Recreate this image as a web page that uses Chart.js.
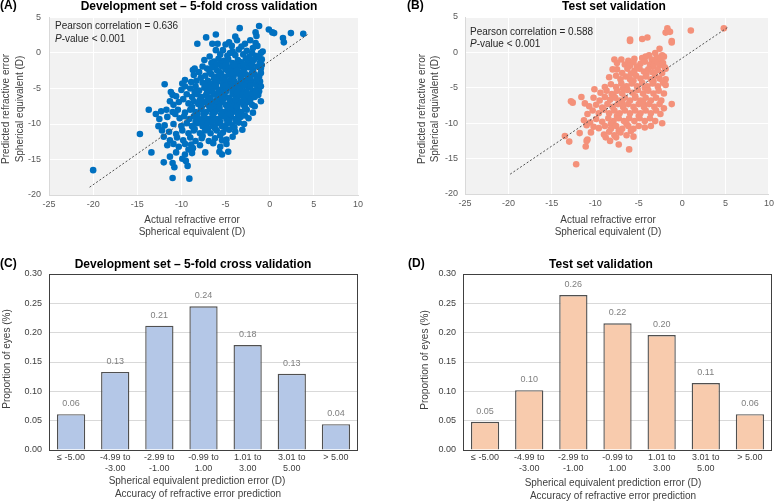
<!DOCTYPE html>
<html><head><meta charset="utf-8">
<script src="https://cdn.jsdelivr.net/npm/chart.js@4/dist/chart.umd.min.js"></script>
<style>
html,body{margin:0;padding:0;background:#fff;}
#wrap{position:relative;width:778px;height:501px;overflow:hidden;background:#fff;}
canvas{position:absolute;display:block;}
</style></head><body>
<div id="wrap">
<canvas id="cA" width="389" height="250" style="left:0;top:0"></canvas>
<canvas id="cB" width="389" height="250" style="left:389px;top:0"></canvas>
<canvas id="cC" width="389" height="251" style="left:0;top:250px"></canvas>
<canvas id="cD" width="389" height="251" style="left:389px;top:250px"></canvas>
</div>
<script>
// ---------------- DATA ----------------
const devPoints = [
[-1.2,3.8],[-3.4,3.5],[-0.1,3.3],[0.3,2.9],[0.5,2.8],[2.4,2.8],[3.8,2.7],[-1.6,2.9],[-1.5,2.4],[1.5,2.1],[1.6,1.5],[-7.2,2.2],[-6.1,2.6],[-5.9,1.3],[-4.6,1.5],[-3.9,2.3],[-3.7,1.8],[-2.8,1.3],[-1.6,1.4],[-8.2,1.3],[-1.9,0.7],[-5.0,1.2],[-4.3,1.0],[-2.2,1.8],[-1.4,1.0],[-3.2,0.9],[-6.5,1.3],
[-0.8,0.2],[-1.0,0.0],[-6.1,0.4],[-5.3,0.4],[-4.2,0.2],[-3.5,0.5],[-2.6,0.3],[-2.0,0.0],[-6.8,-0.5],[-5.6,-0.2],[-4.8,-0.4],[-3.9,-0.3],[-3.0,-0.2],[-1.6,-0.4],[-4.5,0.0],[-2.3,-0.5],[-1.2,-0.6],
[-7.4,-1.0],[-6.3,-1.2],[-5.8,-0.8],[-5.2,-1.1],[-4.7,-0.9],[-4.2,-1.4],[-3.6,-1.0],[-3.2,-1.3],[-2.7,-0.8],[-2.2,-1.2],[-1.8,-1.0],[-1.1,-1.3],[-0.9,-0.9],[-6.6,-1.4],[-4.9,-1.5],[-3.8,-1.6],[-2.5,-1.5],[-5.5,-1.5],
[-7.6,-1.9],[-8.7,-2.4],[-8.5,-2.2],[-7.1,-2.2],[-6.5,-2.0],[-6.0,-2.4],[-5.4,-1.9],[-5.0,-2.3],[-4.4,-2.0],[-3.9,-2.4],[-3.4,-1.9],[-2.9,-2.3],[-2.4,-2.0],[-1.9,-2.4],[-1.4,-1.9],[-1.0,-2.2],[-0.9,-1.7],[-4.7,-2.6],[-6.8,-2.7],[-3.1,-2.7],
[-8.0,-2.7],[-8.6,-3.1],[-7.3,-3.2],[-6.6,-3.0],[-6.0,-3.3],[-5.5,-2.9],[-5.1,-3.4],[-4.6,-3.0],[-4.1,-3.3],[-3.6,-2.9],[-3.2,-3.3],[-2.7,-3.0],[-2.2,-3.4],[-1.7,-3.0],[-1.2,-3.3],[-1.0,-2.8],[-7.8,-3.5],[-5.8,-3.6],[-4.4,-3.7],[-2.5,-3.7],
[-9.6,-3.8],[-9.9,-4.3],[-8.9,-4.1],[-8.3,-3.9],[-7.6,-4.2],[-7.0,-3.9],[-6.4,-4.3],[-5.9,-4.0],[-5.3,-4.4],[-4.9,-4.0],[-4.5,-4.4],[-4.0,-4.0],[-3.5,-4.3],[-3.0,-3.9],[-2.6,-4.3],[-2.1,-4.0],[-1.6,-4.4],[-1.1,-4.0],[-11.9,-4.4],[-6.7,-4.6],[-3.8,-4.7],
[-11.2,-5.5],[-9.6,-4.7],[-10.0,-5.2],[-9.0,-5.0],[-8.4,-4.7],[-8.0,-5.3],[-7.4,-4.9],[-6.9,-5.3],[-6.3,-4.8],[-5.8,-5.2],[-5.3,-4.8],[-4.9,-5.3],[-4.4,-4.9],[-4.0,-5.4],[-3.4,-5.0],[-2.9,-5.4],[-2.4,-4.9],[-1.9,-5.3],[-1.4,-4.8],[-1.0,-4.7],[-1.2,-5.4],[-7.1,-5.6],[-5.5,-5.6],[-3.2,-5.7],
[-10.6,-6.1],[-11.0,-5.9],[-9.4,-5.8],[-8.8,-6.2],[-8.2,-5.8],[-7.7,-6.2],[-7.2,-5.9],[-6.7,-6.3],[-6.2,-5.8],[-5.7,-6.2],[-5.2,-5.9],[-4.7,-6.3],[-4.2,-5.8],[-3.7,-6.2],[-3.2,-5.9],[-2.7,-6.3],[-2.2,-5.8],[-1.7,-6.2],[-1.3,-5.9],[-9.8,-6.5],[-6.0,-6.6],[-4.5,-6.6],
[-11.3,-6.8],[-10.9,-7.3],[-10.3,-6.9],[-9.2,-7.1],[-8.6,-6.8],[-8.1,-7.2],[-7.5,-6.9],[-7.0,-7.3],[-6.5,-6.9],[-6.0,-7.3],[-5.5,-6.9],[-5.0,-7.3],[-4.5,-6.9],[-4.0,-7.3],[-3.5,-6.9],[-3.0,-7.3],[-2.5,-6.9],[-2.0,-7.3],[-1.0,-6.8],[-1.7,-7.5],[-8.8,-7.6],[-6.3,-7.6],[-4.3,-7.7],
[-13.7,-8.0],[-12.9,-8.6],[-12.3,-8.2],[-11.7,-8.0],[-11.0,-8.3],[-10.4,-8.0],[-9.6,-8.4],[-9.0,-8.0],[-8.4,-8.3],[-7.8,-7.9],[-7.2,-8.3],[-6.7,-7.9],[-6.2,-8.3],[-5.7,-7.9],[-5.2,-8.3],[-4.7,-7.9],[-4.2,-8.3],[-3.7,-7.9],[-3.2,-8.3],[-2.6,-8.0],[-1.9,-8.4],[-7.5,-8.6],[-5.0,-8.7],[-10.7,-8.6],
[-12.5,-9.3],[-11.6,-9.0],[-10.2,-9.2],[-9.7,-8.9],[-9.1,-9.3],[-8.6,-8.9],[-8.0,-9.3],[-7.4,-8.9],[-6.9,-9.3],[-6.4,-8.9],[-5.9,-9.3],[-5.4,-8.9],[-4.9,-9.3],[-4.4,-8.9],[-3.9,-9.3],[-3.3,-9.0],[-2.8,-8.8],[-2.4,-9.2],[-7.1,-9.6],[-5.6,-9.7],[-8.4,-9.7],
[-12.6,-10.3],[-11.9,-10.2],[-10.9,-10.0],[-10.0,-10.3],[-9.4,-9.9],[-8.8,-10.3],[-8.2,-9.9],[-7.6,-10.3],[-7.1,-9.9],[-6.5,-10.3],[-5.9,-9.9],[-5.4,-10.3],[-4.8,-9.9],[-4.2,-10.2],[-3.5,-9.8],[-2.9,-10.0],[-6.2,-10.6],[-8.5,-10.7],
[-14.7,-11.4],[-12.2,-10.9],[-11.4,-11.1],[-10.6,-11.4],[-9.9,-10.9],[-9.2,-11.3],[-8.6,-10.9],[-7.9,-11.3],[-7.3,-10.9],[-6.7,-11.3],[-6.0,-10.9],[-5.3,-11.2],[-4.6,-10.8],[-3.9,-11.1],[-3.1,-10.8],[-5.6,-11.6],[-7.6,-11.7],
[-12.0,-11.8],[-11.3,-12.3],[-10.5,-11.9],[-9.8,-12.3],[-9.0,-11.9],[-8.4,-12.4],[-7.7,-12.0],[-6.9,-12.4],[-6.2,-12.0],[-5.4,-12.3],[-4.9,-12.2],[-4.2,-11.8],[-10.9,-12.8],[-8.9,-12.9],
[-11.6,-13.0],[-10.3,-13.2],[-9.6,-12.8],[-8.7,-13.4],[-7.9,-13.0],[-6.4,-12.7],[-5.6,-13.2],[-4.9,-12.8],[-9.2,-13.6],
[-13.4,-14.0],[-11.3,-14.6],[-10.6,-14.0],[-9.6,-14.3],[-8.8,-14.1],[-7.3,-14.0],[-5.7,-13.9],[-4.7,-13.9],[-5.4,-14.3],[-9.9,-14.9],
[-12.0,-15.4],[-9.5,-15.2],[-9.3,-15.9],[-10.8,-16.1],[-11.0,-17.6],[-9.1,-17.7],[-20.0,-16.5],[-11.0,-15.5],
[-6.0,-1.6],[-5.0,-1.8],[-4.0,-1.8],[-3.0,-1.6],[-2.0,-1.6],[-5.7,-2.7],[-4.2,-2.7],[-3.7,-2.5],[-2.0,-2.8],[-6.3,-3.6],[-5.3,-3.7],[-3.3,-3.6],[-2.3,-3.5],[-1.5,-3.7],[-7.3,-4.6],[-6.1,-4.6],[-5.0,-4.6],[-4.2,-4.7],[-2.9,-4.6],[-2.2,-4.6],[-8.5,-5.5],[-6.5,-5.5],[-5.0,-5.5],[-4.2,-5.5],[-3.7,-5.6],[-2.6,-5.6],[-1.6,-5.6],[-7.9,-6.6],[-7.0,-6.6],[-5.3,-6.6],[-3.9,-6.6],[-3.0,-6.6],[-2.2,-6.6],[-7.7,-7.6],[-6.8,-7.7],[-5.7,-7.6],[-4.8,-7.6],[-3.7,-7.6],[-2.8,-7.6],[-8.2,-8.6],[-6.5,-8.6],[-5.5,-8.6],[-4.5,-8.6],[-3.6,-8.6],[-7.7,-9.6],[-6.5,-9.6],[-4.6,-9.6],[-3.8,-9.6],[-7.0,-10.6],[-5.0,-10.6],[-4.0,-10.5]
];
const testPoints = [
[4.8,3.4],[1.0,3.1],[-1.7,3.4],[-1.9,2.8],[-1.4,2.9],[-1.6,3.0],[-1.2,1.6],[-1.2,1.4],[-6.0,1.8],[-6.0,1.6],[-4.6,1.9],[-4.0,2.1],[-2.6,0.5],
[-3.1,-0.1],[-2.3,-0.4],[-3.8,-0.4],[-2.9,-0.7],[-7.8,-1.0],[-7.0,-1.0],[-6.2,-1.2],[-5.5,-0.9],[-4.6,-0.8],[-3.5,-1.0],[-2.5,-1.0],[-2.1,-0.6],[-4.2,-0.6],
[-7.5,-1.5],[-6.6,-1.7],[-5.6,-1.4],[-4.8,-1.6],[-4.3,-1.3],[-3.7,-1.7],[-3.1,-1.4],[-2.6,-1.8],[-2.2,-1.5],[-6.0,-1.9],[-5.2,-2.0],[-3.3,-2.0],[-2.0,-2.1],
[-7.5,-2.4],[-8.0,-2.4],[-6.3,-2.3],[-5.5,-2.6],[-4.9,-2.3],[-4.4,-2.7],[-3.9,-2.4],[-3.4,-2.8],[-2.8,-2.5],[-2.3,-2.9],[-1.9,-2.3],[-6.9,-2.9],[-5.9,-3.0],[-4.1,-3.0],
[-8.4,-3.5],[-7.6,-3.3],[-7.1,-3.8],[-6.5,-3.4],[-6.0,-3.8],[-5.3,-3.3],[-4.8,-3.7],[-4.2,-3.4],[-3.6,-3.8],[-3.1,-3.3],[-2.6,-3.7],[-1.9,-3.8],[-5.6,-4.0],[-3.3,-4.1],
[-8.9,-4.9],[-8.2,-4.5],[-7.6,-4.9],[-7.0,-4.4],[-6.4,-4.8],[-5.8,-4.4],[-5.2,-4.8],[-4.6,-4.3],[-4.0,-4.8],[-3.4,-4.4],[-2.8,-4.8],[-2.2,-4.3],[-1.9,-4.6],[-4.3,-5.0],[-6.8,-5.1],
[-10.1,-5.2],[-9.4,-5.7],[-8.7,-5.4],[-8.1,-5.9],[-7.5,-5.4],[-6.9,-5.8],[-6.3,-5.3],[-5.7,-5.7],[-5.1,-5.3],[-4.5,-5.8],[-3.9,-5.4],[-3.3,-5.8],[-2.7,-5.4],[-2.1,-5.8],[-7.9,-6.1],[-5.4,-6.2],
[-11.6,-6.3],[-12.8,-6.9],[-12.6,-7.1],[-10.2,-6.4],[-9.5,-6.8],[-8.9,-6.3],[-8.3,-6.7],[-7.7,-6.4],[-7.2,-6.8],[-6.6,-6.4],[-6.0,-6.8],[-5.4,-6.4],[-4.8,-6.8],[-4.2,-6.4],[-3.6,-6.8],[-3.0,-6.4],[-2.4,-6.8],[-6.9,-7.1],[-4.5,-7.1],
[-10.7,-7.6],[-11.2,-7.2],[-9.9,-7.4],[-9.2,-7.8],[-8.6,-7.3],[-8.0,-7.7],[-7.4,-7.3],[-6.8,-7.7],[-6.2,-7.3],[-5.6,-7.7],[-5.0,-7.3],[-4.4,-7.7],[-3.8,-7.3],[-3.2,-7.7],[-2.6,-7.3],[-1.2,-7.3],[-2.1,-7.9],
[-10.9,-8.7],[-10.3,-8.2],[-9.6,-8.6],[-9.0,-8.1],[-8.4,-8.6],[-7.8,-8.2],[-7.2,-8.6],[-6.6,-8.2],[-6.0,-8.6],[-5.4,-8.2],[-4.8,-8.6],[-4.2,-8.2],[-3.6,-8.6],[-3.0,-8.2],[-2.5,-8.7],[-7.5,-9.0],[-5.0,-9.0],
[-11.3,-9.6],[-10.6,-9.9],[-9.9,-9.4],[-9.2,-9.8],[-8.5,-9.3],[-7.9,-9.7],[-7.3,-9.3],[-6.7,-9.7],[-6.1,-9.3],[-5.5,-9.7],[-4.9,-9.3],[-4.3,-9.7],[-3.7,-9.3],[-3.1,-9.7],[-2.3,-10.0],[-8.2,-10.1],[-6.4,-10.1],
[-10.2,-10.5],[-11.0,-10.3],[-9.6,-10.7],[-8.9,-10.4],[-8.2,-10.8],[-7.6,-10.4],[-6.9,-10.8],[-6.2,-10.4],[-5.6,-10.8],[-5.0,-10.4],[-4.3,-10.6],[-3.6,-10.4],[-7.3,-11.1],[-5.9,-11.1],
[-11.8,-11.4],[-10.5,-11.3],[-9.0,-11.6],[-8.4,-11.2],[-7.8,-11.7],[-7.1,-11.3],[-6.4,-11.7],[-5.6,-11.9],[-8.8,-12.0],[-7.6,-12.0],
[-13.5,-11.8],[-13.0,-12.6],[-11.1,-13.3],[-10.9,-12.3],[-11.0,-12.5],[-7.3,-13.0],[-6.1,-13.7],[-8.3,-12.5],[-12.2,-15.8]
];
const devTrend = [[-20.4,-18.9],[4.4,2.7]];
const testTrend = [[-19.8,-17.2],[5.2,3.5]];
const devR = '0.636', testR = '0.588';

const errCategories = ['≤ -5.00', ['-4.99 to','-3.00'], ['-2.99 to','-1.00'], ['-0.99 to','1.00'], ['1.01 to','3.00'], ['3.01 to','5.00'], '> 5.00'];
const devProportion  = [0.061, 0.133, 0.212, 0.245, 0.179, 0.130, 0.044];
const testProportion = [0.048, 0.102, 0.264, 0.216, 0.196, 0.114, 0.061];

// ---------------- HELPERS ----------------
const FF = '"Liberation Sans", Arial, Helvetica, sans-serif';
const toXY = arr => arr.map(p => ({x: p[0], y: p[1]}));

function textPlugin(items) {
  return {
    id: 'texts',
    afterDraw(chart) {
      const c = chart.ctx;
      c.save();
      items.forEach(it => {
        c.fillStyle = it.c || '#000';
        c.textBaseline = 'middle';
        if (it.pv) {
          c.textAlign = 'left';
          c.font = 'italic ' + it.f;
          c.fillText('P', it.x, it.y);
          const w = c.measureText('P').width;
          c.font = it.f;
          c.fillText(it.t, it.x + w, it.y);
          return;
        }
        c.font = it.f;
        c.textAlign = it.a || 'center';
        if (it.r) {
          c.save(); c.translate(it.x, it.y); c.rotate(-Math.PI / 2);
          c.fillText(it.t, 0, 0); c.restore();
        } else c.fillText(it.t, it.x, it.y);
      });
      c.restore();
    }
  };
}
const bgPlugin = {
  id: 'bg',
  beforeDraw(chart) {
    const a = chart.chartArea, c = chart.ctx;
    c.save(); c.fillStyle = '#F2F2F2';
    c.fillRect(a.left, a.top, a.right - a.left, a.bottom - a.top);
    c.restore();
  }
};
const framePlugin = {
  id: 'frame',
  afterDatasetsDraw(chart) {
    const a = chart.chartArea, c = chart.ctx;
    c.save(); c.strokeStyle = '#404040'; c.lineWidth = 1;
    c.strokeRect(Math.round(a.left) + 0.5, Math.round(a.top) + 0.5, Math.round(a.right - a.left) - 1, Math.round(a.bottom - a.top));
    c.restore();
  }
};
const valueLabelPlugin = {
  id: 'vlabels',
  afterDatasetsDraw(chart) {
    const c = chart.ctx, meta = chart.getDatasetMeta(0), data = chart.data.datasets[0].data;
    c.save(); c.fillStyle = '#7F7F7F'; c.font = '9px ' + FF;
    c.textAlign = 'center'; c.textBaseline = 'middle';
    meta.data.forEach((bar, i) => c.fillText(data[i].toFixed(2), bar.x, bar.y - 10.5));
    c.restore();
  }
};

function scatterChart(id, pts, trend, color, lay, texts) {
  return new Chart(document.getElementById(id), {
    type: 'scatter',
    data: {
      datasets: [
        {type: 'line', data: toXY(trend), borderColor: '#505050', borderWidth: 1, borderDash: [2, 2], pointRadius: 0, fill: false},
        {data: toXY(pts), backgroundColor: color, borderColor: color, borderWidth: 0, pointRadius: 3.3, pointHoverRadius: 3.3}
      ]
    },
    options: {
      responsive: false, animation: false, devicePixelRatio: 1,
      layout: {padding: {left: 0, top: lay.top, right: lay.right, bottom: 0}},
      plugins: {legend: {display: false}, tooltip: {enabled: false}},
      scales: {
        x: {type: 'linear', min: -25, max: 10,
            ticks: {stepSize: 5, padding: 4, color: '#595959', font: {size: 9, family: FF}},
            grid: {color: '#FFFFFF', lineWidth: 1, drawTicks: false},
            border: {color: '#D9D9D9'},
            afterFit: s => { s.height = lay.xh; }},
        y: {type: 'linear', min: -20, max: 5,
            ticks: {stepSize: 5, padding: lay.yp, color: '#595959', font: {size: 9, family: FF}},
            grid: {color: '#FFFFFF', lineWidth: 1, drawTicks: false},
            border: {color: '#D9D9D9'},
            afterFit: s => { s.width = lay.yw; }}
      }
    },
    plugins: [bgPlugin, textPlugin(texts)]
  });
}

function barChart(id, vals, fill, lay, texts) {
  return new Chart(document.getElementById(id), {
    type: 'bar',
    data: {labels: errCategories, datasets: [{data: vals, backgroundColor: fill, borderColor: '#505050', borderWidth: 1.4, barPercentage: 0.64, categoryPercentage: 1}]},
    options: {
      responsive: false, animation: false, devicePixelRatio: 1,
      layout: {padding: {left: 0, top: lay.top, right: lay.right, bottom: 0}},
      plugins: {legend: {display: false}, tooltip: {enabled: false}},
      scales: {
        x: {ticks: {padding: 2, color: '#404040', font: {size: 9, family: FF, lineHeight: 1.22}},
            grid: {display: false, drawTicks: false}, border: {display: false},
            afterFit: s => { s.height = lay.xh; }},
        y: {min: 0, max: 0.3,
            ticks: {stepSize: 0.05, padding: lay.yp, color: '#404040', font: {size: 9, family: FF}, callback: v => v.toFixed(2)},
            grid: {color: '#D9D9D9', lineWidth: 1, drawTicks: false}, border: {display: false},
            afterFit: s => { s.width = lay.yw; }}
      }
    },
    plugins: [framePlugin, valueLabelPlugin, textPlugin(texts)]
  });
}

const FT = 'bold 12px ' + FF, FA = '10px ' + FF;

scatterChart('cA', devPoints, devTrend, '#0070C0', {top: 17.5, right: 31, xh: 55, yw: 49, yp: 8}, [
  {t: '(A)', x: 0, y: 6, f: FT, a: 'left'},
  {t: 'Development set – 5-fold cross validation', x: 199, y: 6.5, f: FT},
  {t: 'Pearson correlation = ' + devR, x: 55, y: 26, f: FA, a: 'left', c: '#262626'},
  {t: '-value < 0.001', x: 55, y: 39, f: FA, pv: true, c: '#262626'},
  {t: 'Actual refractive error', x: 192, y: 220, f: FA, c: '#404040'},
  {t: 'Spherical equivalent (D)', x: 192, y: 232, f: FA, c: '#404040'},
  {t: 'Predicted refractive error', x: 6, y: 109, f: FA, r: true, c: '#404040'},
  {t: 'Spherical equivalent (D)', x: 20, y: 109, f: FA, r: true, c: '#404040'}
]);
scatterChart('cB', testPoints, testTrend, '#F4917A', {top: 17, right: 6, xh: 56, yw: 76, yp: 7}, [
  {t: '(B)', x: 18, y: 6, f: FT, a: 'left'},
  {t: 'Test set validation', x: 225, y: 6.5, f: FT},
  {t: 'Pearson correlation = ' + testR, x: 81, y: 32, f: FA, a: 'left', c: '#262626'},
  {t: '-value < 0.001', x: 81, y: 44, f: FA, pv: true, c: '#262626'},
  {t: 'Actual refractive error', x: 219, y: 220, f: FA, c: '#404040'},
  {t: 'Spherical equivalent (D)', x: 219, y: 232, f: FA, c: '#404040'},
  {t: 'Predicted refractive error', x: 33, y: 109, f: FA, r: true, c: '#404040'},
  {t: 'Spherical equivalent (D)', x: 46, y: 109, f: FA, r: true, c: '#404040'}
]);
barChart('cC', devProportion, '#B4C7E7', {top: 24, right: 31, xh: 51, yw: 49, yp: 7}, [
  {t: '(C)', x: 0, y: 14, f: FT, a: 'left'},
  {t: 'Development set – 5-fold cross validation', x: 193, y: 14.5, f: FT},
  {t: 'Spherical equivalent prediction error (D)', x: 197, y: 231, f: FA, c: '#404040'},
  {t: 'Accuracy of refractive error prediction', x: 198, y: 244, f: FA, c: '#404040'},
  {t: 'Proportion of eyes (%)', x: 7, y: 109, f: FA, r: true, c: '#404040'}
]);
barChart('cD', testProportion, '#F8CBAD', {top: 24, right: 6, xh: 51, yw: 74, yp: 7}, [
  {t: '(D)', x: 19, y: 14, f: FT, a: 'left'},
  {t: 'Test set validation', x: 212, y: 14.5, f: FT},
  {t: 'Spherical equivalent prediction error (D)', x: 224, y: 233, f: FA, c: '#404040'},
  {t: 'Accuracy of refractive error prediction', x: 224, y: 246, f: FA, c: '#404040'},
  {t: 'Proportion of eyes (%)', x: 36, y: 110, f: FA, r: true, c: '#404040'}
]);
</script>
</body></html>
